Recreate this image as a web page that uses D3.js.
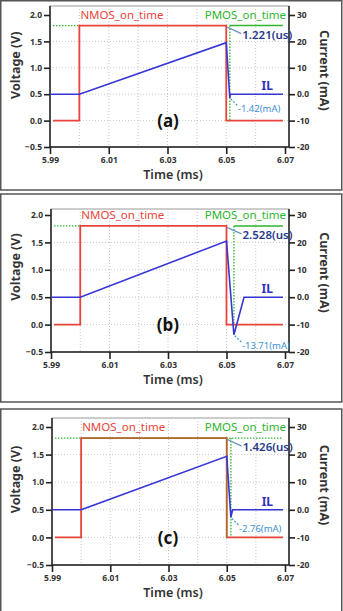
<!DOCTYPE html>
<html>
<head>
<meta charset="utf-8">
<script src="https://d3js.org/d3.v7.min.js"></script>
<style>
  html, body { margin: 0; background: #fff; overflow: hidden; }
  text { font-family: "Noto Sans", sans-serif; }
</style>
</head>
<body>
<svg width="343" height="611"></svg>
<script>
// axis ticks
const timeTicks = [5.99, 6.01, 6.03, 6.05, 6.07];
const gridTimes = [6.00, 6.01, 6.02, 6.03, 6.04, 6.05, 6.06];
const voltTicks = [-0.5, 0.0, 0.5, 1.0, 1.5, 2.0];
const gridVolts = [0.0, 0.5, 1.0, 1.5];
const currTicks = [-20, -10, 0, 10, 20, 30];

const panelNames = ["(a)", "(b)", "(c)"];
const deadTimeLabels = ["1.221(us)", "2.528(us)", "1.426(us)"];
const dipLabels = ["-1.42(mA)", "-13.71(mA)", "-2.76(mA)"];

// NMOS gate voltage (same in all three)
const nmosTime = [5.991, 6.0, 6.0, 6.05, 6.05, 6.0693];
const nmosVolt = [0, 0, 1.8, 1.8, 0, 0];

// PMOS turn on = 6.05 ms + dead time
const pmosOn = [6.051221, 6.052528, 6.051426];
const pmosLevel = 1.8;

// inductor current IL (mA)
const ilTimeA = [5.99, 6.0, 6.05, 6.05122, 6.0514, 6.0693];
const ilCurrA = [0, 0, 19.5, -1.42, 0, 0];
const ilTimeB = [5.99, 6.0, 6.05, 6.05253, 6.056, 6.0693];
const ilCurrB = [0, 0, 20.5, -13.71, 0, 0];
const ilTimeC = [5.99, 6.0, 6.05, 6.05143, 6.052, 6.0693];
const ilCurrC = [0, 0, 19.4, -2.76, 0, 0];
const ilTimes = [ilTimeA, ilTimeB, ilTimeC];
const ilCurrs = [ilCurrA, ilCurrB, ilCurrC];
const dipIndex = 3;

// layout of the 3 boxes (pixels)
const boxTop = [0.75, 194, 409];
const boxBottom = [190, 402, 613];
const frameTop = [6, 209, 418];
const yTopPx = [15, 215, 427];   // 2.0 V
const yBotPx = [147, 352, 565];  // -0.5 V
const xLeftPx = [50, 51, 52];
const xRightPx = 285;
const frameRight = 289;

const RED = "#e8443a", GREEN = "#2db52d", BLUE = "#3636d6";

const svg = d3.select("svg");

function styleAxis(g) {
  g.select(".domain").attr("stroke", "#222").attr("stroke-width", 1.5);
  g.selectAll(".tick line").attr("stroke", "#222").attr("stroke-width", 1.6);
  g.selectAll(".tick text").attr("fill", "#333").style("font-size", "8.5px").style("font-weight", "bold");
}

for (let i = 0; i < 3; i++) {
  const g = svg.append("g");

  g.append("rect")
    .attr("x", 0.75).attr("y", boxTop[i])
    .attr("width", 341).attr("height", boxBottom[i] - boxTop[i])
    .attr("fill", "none").attr("stroke", "#555").attr("stroke-width", 1.5);

  const x = d3.scaleLinear().domain([5.99, 6.07]).range([xLeftPx[i], xRightPx]);
  const yV = d3.scaleLinear().domain([-0.5, 2.0]).range([yBotPx[i], yTopPx[i]]);
  const yI = d3.scaleLinear().domain([-20, 30]).range([yBotPx[i], yTopPx[i]]);
  const bottom = yBotPx[i];

  // frame
  g.append("rect")
    .attr("x", xLeftPx[i]).attr("y", frameTop[i])
    .attr("width", frameRight - xLeftPx[i]).attr("height", bottom - frameTop[i])
    .attr("fill", "none").attr("stroke", "#999").attr("stroke-width", 1);

  // grid
  g.append("g").selectAll("line").data(gridTimes).join("line")
    .attr("x1", d => x(d)).attr("x2", d => x(d))
    .attr("y1", frameTop[i]).attr("y2", bottom)
    .attr("stroke", "#c8c8c8").attr("stroke-dasharray", "1,2");
  g.append("g").selectAll("line").data(gridVolts).join("line")
    .attr("x1", xLeftPx[i]).attr("x2", frameRight)
    .attr("y1", d => yV(d)).attr("y2", d => yV(d))
    .attr("stroke", "#c8c8c8").attr("stroke-dasharray", "1,2");

  // axes
  g.append("g").attr("transform", `translate(0,${bottom})`)
    .call(d3.axisBottom(x).tickValues(timeTicks).tickFormat(d3.format(".2f"))
      .tickSize(7).tickSizeOuter(0).tickPadding(3))
    .call(styleAxis)
    .call(a => a.select(".domain").attr("d", `M${xLeftPx[i]},0H${frameRight}`));
  g.append("g").attr("transform", `translate(${xLeftPx[i]},0)`)
    .call(d3.axisLeft(yV).tickValues(voltTicks).tickFormat(d3.format(".1f"))
      .tickSize(6).tickSizeOuter(0).tickPadding(2))
    .call(styleAxis)
    .call(a => a.select(".domain").attr("d", `M0,${frameTop[i]}V${bottom}`));
  g.append("g").attr("transform", `translate(${frameRight},0)`)
    .call(d3.axisRight(yI).tickValues(currTicks).tickFormat(d => d === 0 ? "0.0" : d)
      .tickSize(6).tickSizeOuter(0).tickPadding(2))
    .call(styleAxis)
    .call(a => a.select(".domain").attr("d", `M0,${frameTop[i]}V${bottom}`));

  // axis titles
  g.append("text").text("Time (ms)")
    .attr("x", 173).attr("y", bottom + 29).attr("text-anchor", "middle").attr("dominant-baseline", "middle")
    .attr("fill", "#333").style("font-size", "12.5px").style("font-weight", "600");
  g.append("text").text("Voltage (V)")
    .attr("transform", `translate(17,${yV(1.05)}) rotate(-90)`)
    .attr("text-anchor", "middle").attr("dominant-baseline", "middle")
    .attr("fill", "#333").style("font-size", "12.5px").style("font-weight", "bold");
  g.append("text").text("Current (mA)")
    .attr("transform", `translate(323,${yV(0.95)}) rotate(90)`)
    .attr("text-anchor", "middle").attr("dominant-baseline", "middle")
    .attr("fill", "#333").style("font-size", "12.5px").style("font-weight", "bold");

  const line = d3.line().x(d => x(d[0])).y(d => yV(d[1]));

  // PMOS gate (green)
  const pm = pmosOn[i];
  if (i < 2) {
    g.append("path").attr("d", line([[5.991, pmosLevel], [6.0, pmosLevel]]))
      .attr("fill", "none").attr("stroke", GREEN).attr("stroke-width", 1.3).attr("stroke-dasharray", "1.5,1.5");
    g.append("path").attr("d", line([[pm, pmosLevel], [6.0693, pmosLevel]]))
      .attr("fill", "none").attr("stroke", GREEN).attr("stroke-width", 1.6);
  } else {
    g.append("path").attr("d", line([[5.991, pmosLevel], [6.0693, pmosLevel]]))
      .attr("fill", "none").attr("stroke", GREEN).attr("stroke-width", 1.3).attr("stroke-dasharray", "1.5,1.5");
  }
  g.append("path").attr("d", line([[pm, pmosLevel], [pm, 0]]))
    .attr("fill", "none").attr("stroke", GREEN).attr("stroke-width", 1.3).attr("stroke-dasharray", "1.5,1.5");

  // NMOS gate (red)
  g.append("path").attr("d", line(nmosTime.map((t, k) => [t, nmosVolt[k]])))
    .attr("fill", "none").attr("stroke", RED).attr("stroke-width", 1.8);
  if (i === 2) {
    g.append("path").attr("d", line(nmosTime.slice(2, 5).map((t, k) => [t, nmosVolt[k + 2]])))
      .attr("fill", "none").attr("stroke", "#6a9a20").attr("stroke-width", 1.8).attr("opacity", 0.45);
  }

  // IL (blue, right axis)
  const il = d3.line().x(d => x(d[0])).y(d => yI(d[1]));
  g.append("path").attr("d", il(ilTimes[i].map((t, k) => [t, ilCurrs[i][k]])))
    .attr("fill", "none").attr("stroke", BLUE).attr("stroke-width", 1.6);

  // labels
  g.append("text").text("NMOS_on_time")
    .attr("x", x(6.0) + 1).attr("y", yV(2.0) + 1).attr("dominant-baseline", "middle")
    .attr("fill", RED).style("font-size", "11.5px");
  g.append("text").text("PMOS_on_time")
    .attr("x", xRightPx + 1).attr("y", yV(2.0) + 1).attr("text-anchor", "end").attr("dominant-baseline", "middle")
    .attr("fill", GREEN).style("font-size", "11.5px");
  g.append("text").text("IL")
    .attr("x", x(6.062)).attr("y", yI(0) - 7).attr("dominant-baseline", "middle")
    .attr("fill", "#3030c0").style("font-size", "12px").style("font-weight", "bold");
  g.append("text").text(panelNames[i])
    .attr("x", 168).attr("y", yV(-0.04)).attr("text-anchor", "middle").attr("dominant-baseline", "middle")
    .attr("fill", "#111").style("font-size", "17px").style("font-weight", "bold");

  // dead time annotation
  const usY = yV(pmosLevel) + 10;
  g.append("line")
    .attr("x1", x(6.05) + 1).attr("y1", yV(1.77))
    .attr("x2", x(6.05) + 15).attr("y2", usY - 2)
    .attr("stroke", "#6a96c0").attr("stroke-width", 1.3);
  g.append("text").text(deadTimeLabels[i])
    .attr("x", x(6.05) + 16).attr("y", usY).attr("dominant-baseline", "middle")
    .attr("fill", "#27398a").style("font-size", "11.5px").style("font-weight", "600");

  // dip annotation
  const dx = x(ilTimes[i][dipIndex]), dy = yI(ilCurrs[i][dipIndex]);
  g.append("line")
    .attr("x1", dx + 1).attr("y1", dy + 1).attr("x2", dx + 8).attr("y2", dy + 8)
    .attr("stroke", "#3b8fd0").attr("stroke-width", 1.2).attr("stroke-dasharray", "2,1.5");
  g.append("text").text(dipLabels[i])
    .attr("x", dx + 8).attr("y", dy + 12).attr("dominant-baseline", "middle")
    .attr("fill", "#3b8fd0").style("font-size", "9.5px");
}
</script>
</body>
</html>
